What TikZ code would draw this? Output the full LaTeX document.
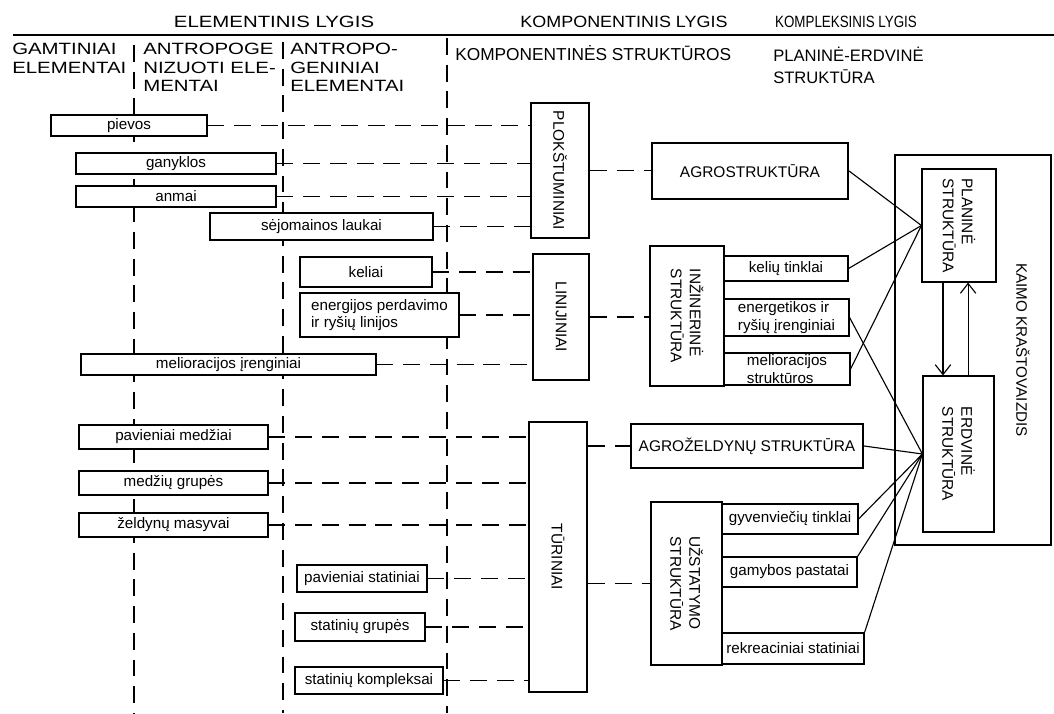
\documentclass[tikz,border=0pt]{standalone}
\usepackage{fontspec}
\setmainfont{Liberation Sans}
\newfontfamily\widefont[FakeStretch=1.25]{Liberation Sans}
\newfontfamily\semifont[FakeStretch=1.1]{Liberation Sans}
\newfontfamily\narrowfont[FakeStretch=0.82]{Liberation Sans}
\usetikzlibrary{arrows.meta,calc}
\tikzset{
  smallbox/.style={draw, line width=0.8pt, fill=white, inner sep=0pt, align=left,
    font=\fontsize{10.8}{12.2}\selectfont},
  bigbox/.style={draw, line width=1.5pt, fill=white, inner sep=0pt,
    font=\fontsize{11}{13.5}\selectfont},
  vlabel/.style={rotate=-90, align=left, inner sep=0pt, font=\fontsize{11}{13.5}\selectfont},
  guide/.style={dash pattern=on 12pt off 7pt, line width=0.8pt},
  dashln/.style={dash pattern=on 12pt off 7pt, line width=0.8pt},
  link/.style={line width=0.8pt},
  levelhead/.style={inner sep=0pt, anchor=base},
  colhead/.style={inner sep=0pt, anchor=north west, align=left}
}

\begin{document}
\begin{tikzpicture}[x=0.025cm,y=-0.025cm,>={Straight Barb[length=7pt,width=11pt]}]
\useasboundingbox (0,0) rectangle (1054,713);

% levels
\node[levelhead, font=\widefont\fontsize{11.6}{13.2}\selectfont] (lvlelem) at (274,27) {ELEMENTINIS LYGIS};
\node[levelhead, font=\semifont\fontsize{11.6}{13.2}\selectfont] (lvlkomp) at (624,27) {KOMPONENTINIS LYGIS};
\node[levelhead, font=\narrowfont\fontsize{11.6}{13.2}\selectfont] (lvlkompl) at (846,27) {KOMPLEKSINIS LYGIS};
\coordinate (ruleL) at (13,35);
\coordinate (ruleR) at (1054,35);
\draw[line width=1.2pt] (ruleL) -- (ruleR);

% column heads
\node[colhead, font=\widefont\fontsize{11.6}{13.2}\selectfont] (hgamt) at (12,43) {GAMTINIAI\\ELEMENTAI};
\node[colhead, font=\widefont\fontsize{11.6}{13.2}\selectfont] (hantrn) at (143,43) {ANTROPOGE\\NIZUOTI ELE-\\MENTAI};
\node[colhead, font=\widefont\fontsize{11.6}{13.2}\selectfont] (hantrg) at (290,43) {ANTROPO-\\GENINIAI\\ELEMENTAI};
\node[levelhead, anchor=base west, font=\fontsize{12.3}{14}\selectfont] (hkomp) at (455,60) {KOMPONENTINĖS STRUKTŪROS};
\node[colhead, font=\fontsize{11.8}{15.6}\selectfont] (hplan) at (773,47) {PLANINĖ-ERDVINĖ\\STRUKTŪRA};

% guides
\coordinate (g1top) at (134,45);  \coordinate (g1bot) at (134,713);
\coordinate (g2top) at (283,42);  \coordinate (g2bot) at (283,713);
\coordinate (g3top) at (447,38);  \coordinate (g3bot) at (447,713);
\draw[guide] (g1top) -- (g1bot);
\draw[guide] (g2top) -- (g2bot);
\draw[guide] (g3top) -- (g3bot);

% elements
\node[smallbox, minimum width=3.9cm, minimum height=0.525cm] (pievos) at (129,125.5) {pievos};
\node[smallbox, minimum width=5cm, minimum height=0.525cm] (ganyklos) at (176,163.5) {ganyklos};
\node[smallbox, minimum width=5cm, minimum height=0.525cm] (anmai) at (176,196.5) {anmai};
\node[smallbox, minimum width=5.575cm, minimum height=0.675cm] (sejom) at (321.5,226.5) {sėjomainos laukai};
\node[smallbox, minimum width=3.3cm, minimum height=0.75cm] (keliai) at (366,272) {keliai};
\node[smallbox, minimum width=3.975cm, minimum height=1.1cm] (energlin) at (379.5,315) {energijos perdavimo\\ir ryšių linijos};
\node[smallbox, minimum width=7.375cm, minimum height=0.525cm] (meliorac) at (228.5,364.5) {melioracijos įrenginiai};
\node[smallbox, minimum width=4.725cm, minimum height=0.6cm] (pavmedz) at (173.5,437) {pavieniai medžiai};
\node[smallbox, minimum width=4.725cm, minimum height=0.6cm] (medzgr) at (173.5,483) {medžių grupės};
\node[smallbox, minimum width=4.725cm, minimum height=0.6cm] (zeldmas) at (173.5,525) {želdynų masyvai};
\node[smallbox, minimum width=3.25cm, minimum height=0.675cm] (pavstat) at (362,578.5) {pavieniai statiniai};
\node[smallbox, minimum width=3.25cm, minimum height=0.7cm] (statgr) at (360,627) {statinių grupės};
\node[smallbox, minimum width=3.7cm, minimum height=0.675cm] (statkomp) at (369,680.5) {statinių kompleksai};

% component structures
\node[bigbox, minimum width=1.45cm, minimum height=3.375cm, label={[vlabel]center:PLOKŠTUMINIAI}] (plok) at (560,170.5) {};
\node[bigbox, minimum width=1.4cm, minimum height=3.15cm, label={[vlabel]center:LINIJINIAI}] (linij) at (561,317) {};
\node[bigbox, minimum width=1.45cm, minimum height=6.75cm, label={[vlabel]center:TŪRINIAI}] (turin) at (558,557) {};

\node[bigbox, minimum width=4.9cm, minimum height=1.4cm] (agro) at (750,171) {AGROSTRUKTŪRA};
\node[bigbox, minimum width=1.85cm, minimum height=3.5cm, label={[vlabel]center:INŽINERINĖ\\STRUKTŪRA}] (inz) at (687,316) {};
\node[smallbox, minimum width=3.1cm, minimum height=0.625cm] (kelt) at (786,268.5) {kelių tinklai};
\node[smallbox, minimum width=3.125cm, minimum height=0.925cm] (energ) at (786.5,317.5) {energetikos ir\\ryšių įrenginiai};
\node[smallbox, minimum width=3.15cm, minimum height=0.8cm] (meliostr) at (787,369) {melioracijos\\struktūros};
\node[bigbox, minimum width=5.8cm, minimum height=1.1cm] (agrozel) at (747,446) {AGROŽELDYNŲ STRUKTŪRA};
\node[bigbox, minimum width=1.775cm, minimum height=4.075cm, label={[vlabel]center:UŽSTATYMO\\STRUKTŪRA}] (uzst) at (686.5,583.5) {};
\node[smallbox, minimum width=3.4cm, minimum height=0.75cm] (gyv) at (790,519) {gyvenviečių tinklai};
\node[smallbox, minimum width=3.375cm, minimum height=0.75cm] (gamyb) at (789.5,572) {gamybos pastatai};
\node[smallbox, minimum width=3.55cm, minimum height=0.775cm] (rekr) at (793,648.5) {rekreaciniai statiniai};

% complex level
\node[draw, line width=1.2pt, inner sep=0pt, minimum width=3.9cm, minimum height=9.75cm] (kaimo) at (973,350) {};
\node[vlabel, font=\fontsize{10.8}{13}\selectfont] (kaimolbl) at (1023,350) {KAIMO KRAŠTOVAIZDIS};
\node[smallbox, minimum width=1.85cm, minimum height=2.825cm, label={[vlabel]center:PLANINĖ\\STRUKTŪRA}] (planine) at (959,225.5) {};
\node[smallbox, minimum width=1.775cm, minimum height=3.9cm, label={[vlabel]center:ERDVINĖ\\STRUKTŪRA}] (erdvine) at (958.5,454) {};

% dashed links
\foreach \src in {pievos,ganyklos,anmai,sejom}
  \draw[dashln] (\src.east) -- (\src.east -| plok.west);
\foreach \src in {keliai,energlin,meliorac}
  \draw[dashln] (\src.east) -- (\src.east -| linij.west);
\foreach \src in {pavmedz,medzgr,zeldmas,pavstat,statgr,statkomp}
  \draw[dashln] (\src.east) -- (\src.east -| turin.west);
\draw[dashln] (plok.east) -- (plok.east -| agro.west);
\draw[dashln] (linij.east) -- (linij.east -| inz.west);
\draw[dashln] (turin.east |- agrozel.west) -- (agrozel.west);
\draw[dashln] (turin.east |- uzst.west) -- (uzst.west);

% solid links
\foreach \src in {agro,kelt,meliostr}
  \draw[link] (\src.east) -- (planine.west);
\foreach \src in {energ,agrozel,gyv}
  \draw[link] (\src.east) -- (erdvine.west);
\draw[link] (gamyb.north east) -- (erdvine.west);
\draw[link] (rekr.north east) -- (erdvine.west);
\draw[link,->] ([xshift=-0.4cm]planine.south) -- ([xshift=-0.4cm]planine.south |- erdvine.north);
\draw[link,->] ([xshift=0.24cm]erdvine.north) -- ([xshift=0.24cm]erdvine.north |- planine.south);
\end{tikzpicture}
\end{document}
